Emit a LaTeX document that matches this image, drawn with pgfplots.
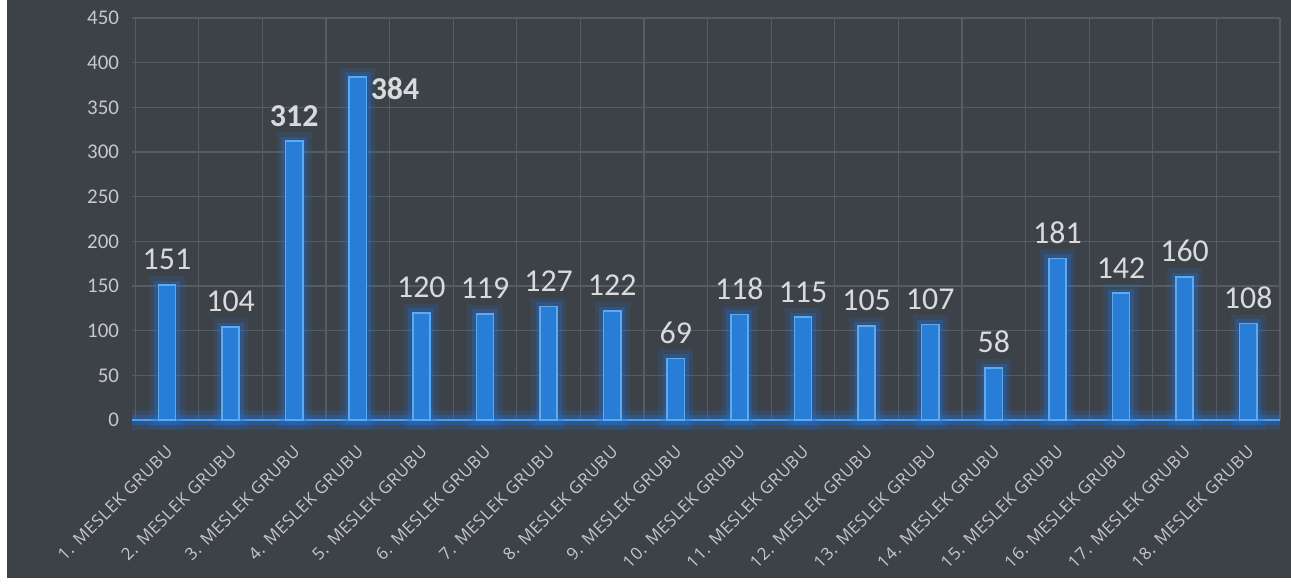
\documentclass[border=0pt]{standalone}
\usepackage{fontspec}
\setmainfont{Carlito}
\newfontfamily\labfont[LetterSpace=4]{Open Sans}
\usepackage{pgfplots}
\usepackage{pgfplotstable}
\pgfplotsset{compat=1.18}
\definecolor{bg}{RGB}{61,66,72}
\definecolor{gridc}{RGB}{86,92,100}
\definecolor{barfill}{RGB}{40,125,214}
\definecolor{baredge}{RGB}{95,170,238}
\definecolor{glow}{RGB}{30,115,220}
\definecolor{tickc}{RGB}{198,200,202}
\definecolor{valc}{RGB}{216,218,220}
\definecolor{xline}{RGB}{80,160,240}

\pgfplotstableread{
x y
0 151
1 104
2 312
3 384
4 120
5 119
6 127
7 122
8 69
9 118
10 115
11 105
12 107
13 58
14 181
15 142
16 160
17 108
}\maindata

\pgfplotstableread{
x y
0 151
1 104
4 120
5 119
6 127
7 122
8 69
9 118
10 115
11 105
12 107
13 58
14 181
15 142
16 160
17 108
}\normallabels

\begin{document}
\begin{tikzpicture}[x=1bp,y=1bp]
\fill[bg] (-66,-81.5) rectangle (579.5,210);
\fill[white] (-66,-81.5) rectangle (-62.5,210);
\fill[white] (-66,-81.5) rectangle (579.5,-79);
\begin{axis}[
  at={(0,0)}, anchor=south west,
  scale only axis, width=574bp, height=201bp,
  xmin=-0.55, xmax=17.5, ymin=0, ymax=450,
  ybar, bar width=0.27, bar shift=0pt,
  axis x line=bottom, axis y line=left,
  y axis line style={draw=none},
  x axis line style={draw=xline, line width=1.1bp, -,
     preaction={draw=glow, line width=10bp, draw opacity=0.18},
     preaction={draw=glow, line width=5bp, draw opacity=0.3}},
  major tick length=0pt, minor tick length=0pt,
  ytick={0,50,...,450},
  xtick={0,...,17},
  minor xtick={-0.5,0.5,...,17.5},
  xticklabels={1. MESLEK GRUBU,2. MESLEK GRUBU,3. MESLEK GRUBU,4. MESLEK GRUBU,5. MESLEK GRUBU,6. MESLEK GRUBU,7. MESLEK GRUBU,8. MESLEK GRUBU,9. MESLEK GRUBU,10. MESLEK GRUBU,11. MESLEK GRUBU,12. MESLEK GRUBU,13. MESLEK GRUBU,14. MESLEK GRUBU,15. MESLEK GRUBU,16. MESLEK GRUBU,17. MESLEK GRUBU,18. MESLEK GRUBU},
  ymajorgrids, xminorgrids,
  major grid style={draw=gridc, line width=0.6bp},
  minor grid style={draw=gridc, line width=0.6bp},
  /pgf/number format/assume math mode=true,
  yticklabel style={font=\fontsize{10.5}{12}\selectfont, text=tickc, anchor=east, xshift=-3bp},
  xticklabel style={font=\labfont\fontsize{8.5}{10}\selectfont, text=tickc, inner sep=1bp, yshift=-10.5bp, xshift=-1bp, rotate=45, anchor=north east},
  clip=false,
]
% glow layers
\addplot[fill=none, draw=glow, line width=9bp, draw opacity=0.15] table[x=x,y=y] {\maindata};
\addplot[fill=none, draw=glow, line width=4.5bp, draw opacity=0.3] table[x=x,y=y] {\maindata};
% bars
\addplot[fill=barfill, draw=baredge, line width=0.8bp] table[x=x,y=y] {\maindata};
% labels
\addplot[draw=none, fill=none, nodes near coords,
  nodes near coords style={font=\fontsize{16}{19}\selectfont, text=valc, anchor=south, yshift=4bp}]
  table[x=x,y=y] {\normallabels};
\addplot[draw=none, fill=none, nodes near coords,
  nodes near coords style={font=\fontsize{16}{19}\selectfont\bfseries, text=valc, anchor=south, yshift=4bp}]
  coordinates {(2,312)};
\addplot[draw=none, fill=none, nodes near coords,
  nodes near coords style={font=\fontsize{16}{19}\selectfont\bfseries, text=valc, anchor=west, xshift=3bp, yshift=-5.75bp}]
  coordinates {(3,384)};
\end{axis}
\pgfresetboundingbox
\path[use as bounding box] (-66,-81.5) rectangle (579.5,210);
\end{tikzpicture}
\end{document}
